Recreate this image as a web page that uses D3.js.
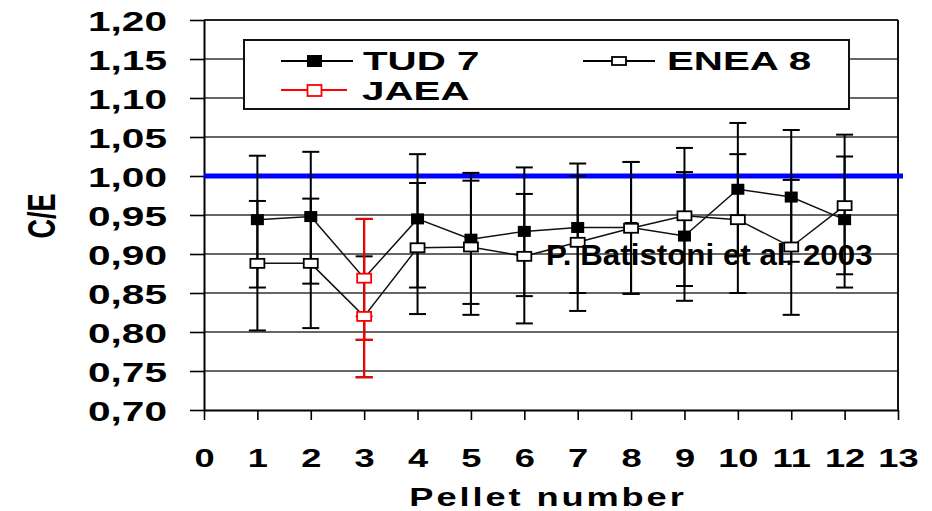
<!DOCTYPE html>
<html><head><meta charset="utf-8">
<script src="https://cdn.jsdelivr.net/npm/d3@7"></script>
<style>
body{margin:0;background:#fff}
svg{display:block}
text{font-family:"Liberation Sans",Arial,sans-serif;font-weight:bold;fill:#000}
</style>
</head><body>
<svg id="c" width="932" height="511"></svg>
<script>
// ---- data ----
const pellets = [1,2,3,4,5,6,7,8,9,10,11,12];
const tud7    = [0.944,0.948,0.869,0.945,0.919,0.929,0.934,0.934,0.923,0.983,0.973,0.944];
const tud7Lo  = [0.857,0.862,0.790,0.857,0.836,0.846,0.850,0.849,0.840,0.898,0.890,0.857];
const tud7Hi  = [1.026,1.031,0.945,1.028,1.004,1.011,1.016,1.018,1.005,1.068,1.059,1.025];
const enea8   = [0.888,0.888,0.820,0.908,0.909,0.897,0.915,0.933,0.949,0.944,0.909,0.962];
const enea8Lo = [0.802,0.805,0.742,0.823,0.822,0.811,0.827,0.849,0.859,0.850,0.822,0.874];
const enea8Hi = [0.968,0.971,0.897,0.991,0.994,0.977,1.000,1.018,1.036,1.028,0.995,1.053];
const jaeaPellets = [3,3];
const jaeaVals    = [0.869,0.820];
const jaeaLo      = [0.790,0.742];
const jaeaHi      = [0.945,0.820];
const refValue = 1.00;
const yTicks = [0.70,0.75,0.80,0.85,0.90,0.95,1.00,1.05,1.10,1.15,1.20];
const xTicks = [0,1,2,3,4,5,6,7,8,9,10,11,12,13];
const seriesNames = ["TUD 7","ENEA 8","JAEA"];
const annotation = "P. Batistoni et al. 2003";
const xTitle = "Pellet number";
const yTitle = "C/E";

// ---- layout ----
const m = {l:204, r:898, t:20, b:410};
const SX = 1.45;
const x = d3.scaleLinear().domain([0,13]).range([m.l,m.r]);
const y = d3.scaleLinear().domain([0.70,1.20]).range([m.b,m.t]);
const svg = d3.select("#c");

// gridlines
svg.append("g").selectAll("line").data(yTicks.filter(v=>v>0.701 && v<1.199)).join("line")
  .attr("x1",m.l).attr("x2",m.r).attr("y1",d=>y(d)).attr("y2",d=>y(d))
  .attr("stroke","#333").attr("stroke-width",1.6);
// top & right border
svg.append("line").attr("x1",m.l).attr("x2",m.r).attr("y1",y(1.20)).attr("y2",y(1.20)).attr("stroke","#222").attr("stroke-width",1.8);
svg.append("line").attr("x1",m.r).attr("x2",m.r).attr("y1",m.t).attr("y2",m.b).attr("stroke","#111").attr("stroke-width",2);

// legend box
const lg = svg.append("g");
lg.append("rect").attr("x",244).attr("y",40).attr("width",605).attr("height",69)
  .attr("fill","#fff").attr("stroke","#111").attr("stroke-width",2);

// axes
const ya = d3.axisLeft(y).tickValues(yTicks).tickSize(14).tickSizeOuter(0)
  .tickFormat(d=>d3.format(".2f")(d).replace(".",","));
const gy = svg.append("g").attr("transform",`translate(${m.l},0)`).call(ya);
gy.select(".domain").attr("stroke","#000").attr("stroke-width",2);
gy.selectAll(".tick line").attr("stroke","#000").attr("stroke-width",1.6);
gy.selectAll(".tick text").attr("x",null).attr("dy",null).attr("y",10)
  .attr("text-anchor","end").attr("transform",`translate(-37,0) scale(${SX},1)`)
  .style("font-size","28px");

const xa = d3.axisBottom(x).tickValues(xTicks).tickSize(10).tickSizeOuter(0).tickFormat(d3.format("d"));
const gx = svg.append("g").attr("transform",`translate(0,${m.b})`).call(xa);
gx.select(".domain").attr("stroke","#000").attr("stroke-width",2);
gx.selectAll(".tick line").attr("stroke","#000").attr("stroke-width",1.6);
gx.selectAll(".tick text").attr("dy",null).attr("y",57)
  .attr("transform",`scale(${SX},1)`).style("font-size","25px");

// reference line
svg.append("line").attr("x1",m.l).attr("x2",m.r+5).attr("y1",y(refValue)).attr("y2",y(refValue))
  .attr("stroke","#0000ff").attr("stroke-width",5);

// error bars
function errBars(xs, lo, hi, color){
  const g = svg.append("g").attr("stroke",color).attr("stroke-width",2);
  const d = xs.map((p,i)=>({p, lo:lo[i], hi:hi[i]}));
  g.selectAll(".v").data(d).join("line").attr("x1",e=>x(e.p)).attr("x2",e=>x(e.p))
    .attr("y1",e=>y(e.lo)).attr("y2",e=>y(e.hi));
  g.selectAll(".cl").data(d).join("line").attr("x1",e=>x(e.p)-8.5).attr("x2",e=>x(e.p)+8.5)
    .attr("y1",e=>y(e.lo)).attr("y2",e=>y(e.lo));
  g.selectAll(".ch").data(d.filter(e=>e.hi>e.lo+0.01)).join("line").attr("x1",e=>x(e.p)-8.5).attr("x2",e=>x(e.p)+8.5)
    .attr("y1",e=>y(e.hi)).attr("y2",e=>y(e.hi));
}
errBars(pellets, tud7Lo, tud7Hi, "#000");
errBars(pellets, enea8Lo, enea8Hi, "#000");
errBars(jaeaPellets, jaeaLo, jaeaHi, "#ff0000");

// lines
const line = d3.line().x(d=>x(d[0])).y(d=>y(d[1]));
svg.append("path").attr("d",line(pellets.map((p,i)=>[p,tud7[i]])))
  .attr("fill","none").attr("stroke","#111").attr("stroke-width",1.5);
svg.append("path").attr("d",line(pellets.map((p,i)=>[p,enea8[i]])))
  .attr("fill","none").attr("stroke","#111").attr("stroke-width",1.5);

// markers
const isJ = p => jaeaPellets.includes(p);
svg.append("g").selectAll("rect").data(pellets.map((p,i)=>[p,tud7[i]]).filter(d=>!isJ(d[0]))).join("rect")
  .attr("x",d=>x(d[0])-6.5).attr("y",d=>y(d[1])-5.5).attr("width",13).attr("height",11).attr("fill","#000");
svg.append("g").selectAll("rect").data(pellets.map((p,i)=>[p,enea8[i]]).filter(d=>!isJ(d[0]))).join("rect")
  .attr("x",d=>x(d[0])-7).attr("y",d=>y(d[1])-4.5).attr("width",14).attr("height",9)
  .attr("fill","#fff").attr("stroke","#000").attr("stroke-width",1.8);
svg.append("g").selectAll("rect").data(jaeaPellets.map((p,i)=>[p,jaeaVals[i]])).join("rect")
  .attr("x",d=>x(d[0])-7).attr("y",d=>y(d[1])-4.5).attr("width",14).attr("height",9)
  .attr("fill","#fff").attr("stroke","#ff0000").attr("stroke-width",1.8);

// legend contents
function sText(g, tx, ty, str, size, anchor, sx){
  return g.append("text").attr("transform",`translate(${tx},${ty}) scale(${sx},1)`)
    .attr("text-anchor",anchor).style("font-size",size+"px").text(str);
}
const LSX = 1.55;
// TUD 7
lg.append("line").attr("x1",281).attr("x2",353).attr("y1",61).attr("y2",61).attr("stroke","#000").attr("stroke-width",1.8);
lg.append("rect").attr("x",307).attr("y",55).attr("width",15).attr("height",12).attr("fill","#000");
sText(lg,363,70,seriesNames[0],26,"start",LSX);
// JAEA
lg.append("line").attr("x1",281).attr("x2",347).attr("y1",90).attr("y2",90).attr("stroke","#ff0000").attr("stroke-width",1.8);
lg.append("rect").attr("x",307.5).attr("y",85).attr("width",14).attr("height",11).attr("fill","#fff").attr("stroke","#ff0000").attr("stroke-width",1.8);
sText(lg,362,100,seriesNames[2],26,"start",LSX);
// ENEA 8
lg.append("line").attr("x1",583).attr("x2",655).attr("y1",61).attr("y2",61).attr("stroke","#000").attr("stroke-width",1.8);
lg.append("rect").attr("x",612).attr("y",57).attr("width",14).attr("height",8).attr("fill","#fff").attr("stroke","#000").attr("stroke-width",1.8);
sText(lg,667,70,seriesNames[1],26,"start",LSX);

// titles
svg.append("text").attr("transform",`translate(55,216) scale(${SX},1) rotate(-90)`)
  .attr("text-anchor","middle").style("font-size","27px").text(yTitle);
sText(svg,548,506,xTitle,25,"middle",SX).style("letter-spacing","2px");

// annotation
sText(svg,546,265,annotation,30,"start",1.044);
</script>
</body></html>
